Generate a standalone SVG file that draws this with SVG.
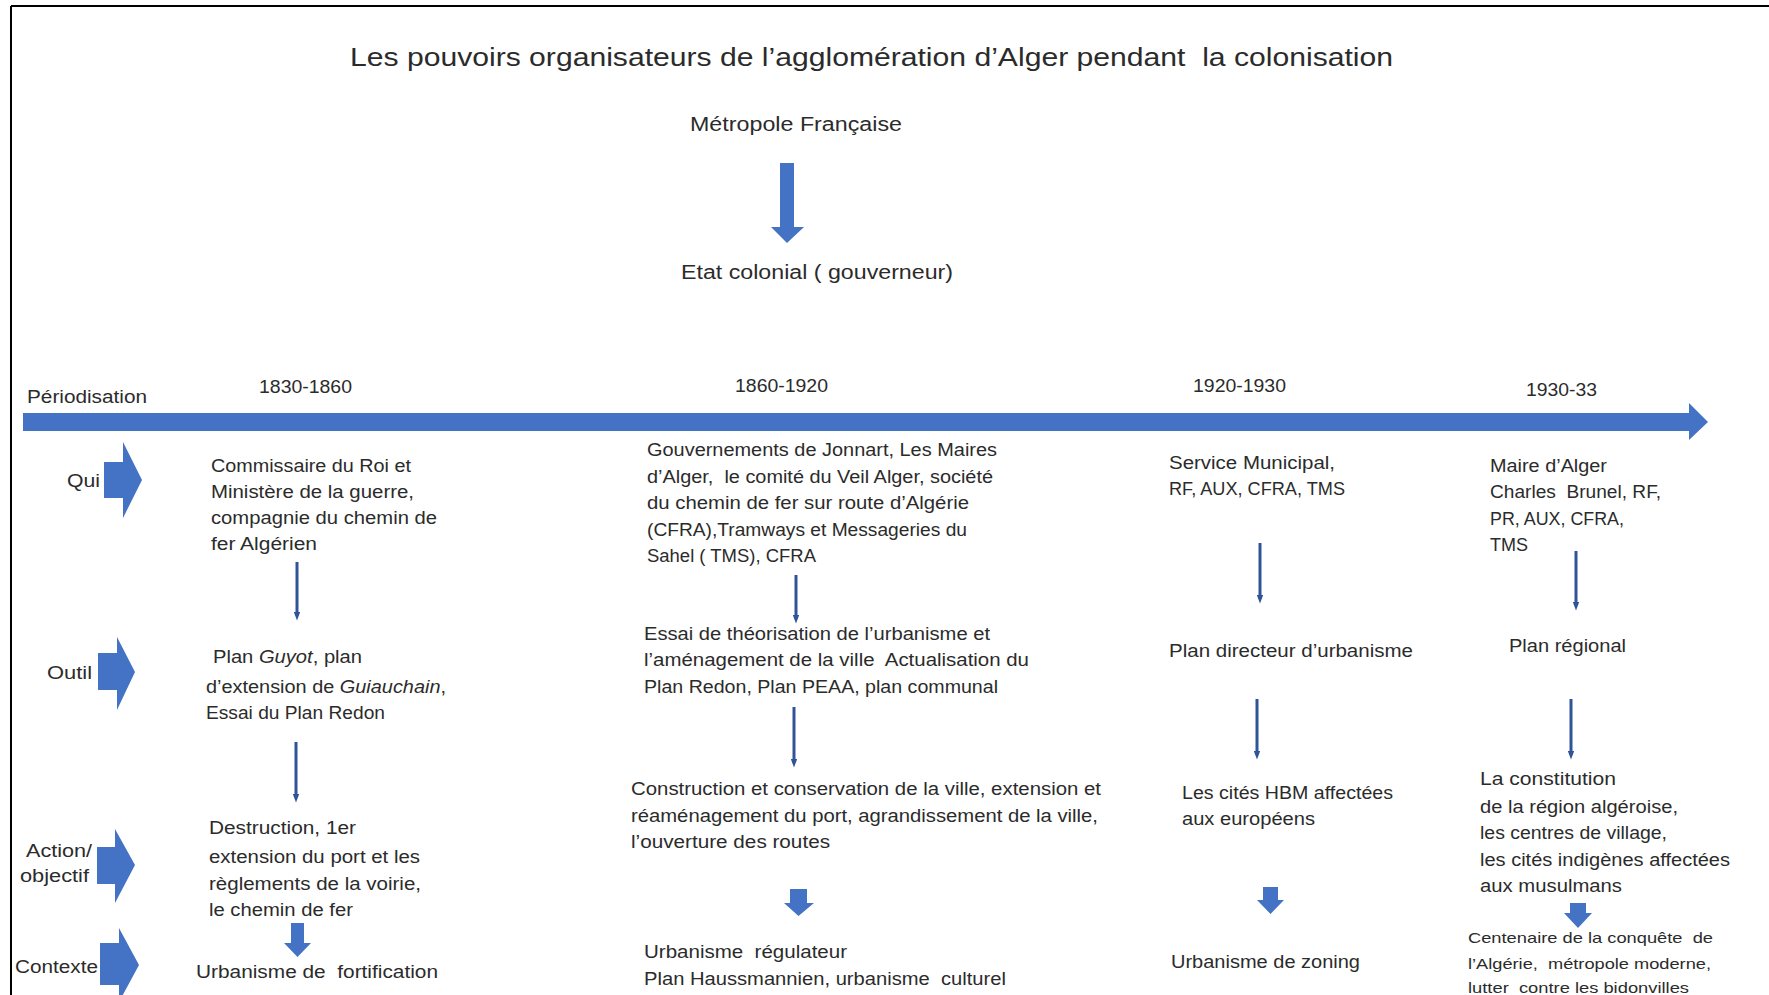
<svg xmlns="http://www.w3.org/2000/svg" width="1769" height="995" viewBox="0 0 1769 995">
<defs>
<style>
text{font-family:"Liberation Sans",Arial,sans-serif;fill:#2b2b2b;white-space:pre;}
.t{font-size:25px;}
.h{font-size:20px;}
.p{font-size:17.5px;}
.b{font-size:17.5px;}
.s{font-size:15px;}
.blk{fill:#4472C4;}
.thin{stroke:#2F5597;stroke-width:3;fill:none;marker-end:url(#th);}
</style>
<marker id="th" viewBox="0 0 8 6" refX="4" refY="3" markerWidth="3" markerHeight="2.2" orient="auto" markerUnits="strokeWidth"><path d="M0,0 L8,3 L0,6 Z" fill="#2F5597"/></marker>
</defs>
<rect x="0" y="0" width="1769" height="995" fill="#ffffff"/>
<g id="frame" stroke="#000" stroke-width="2" fill="none">
<line x1="11" y1="6" x2="1769" y2="6"/>
<line x1="11" y1="6" x2="11" y2="995"/>
</g>

<g id="title"><text class="t" x="350" y="66" textLength="1043" lengthAdjust="spacingAndGlyphs">Les pouvoirs organisateurs de l’agglomération d’Alger pendant  la colonisation</text></g>
<g id="metropole"><text class="h" x="690" y="131" textLength="212" lengthAdjust="spacingAndGlyphs">Métropole Française</text></g>
<g id="etat"><text class="h" x="681" y="279" textLength="272" lengthAdjust="spacingAndGlyphs">Etat colonial ( gouverneur)</text></g>

<g id="timeline">
<text class="p" x="27" y="403" textLength="120" lengthAdjust="spacingAndGlyphs">Périodisation</text>
<text class="p" x="259" y="393" textLength="93" lengthAdjust="spacingAndGlyphs">1830-1860</text>
<text class="p" x="735" y="392" textLength="93" lengthAdjust="spacingAndGlyphs">1860-1920</text>
<text class="p" x="1193" y="392" textLength="93" lengthAdjust="spacingAndGlyphs">1920-1930</text>
<text class="p" x="1526" y="396" textLength="71" lengthAdjust="spacingAndGlyphs">1930-33</text>
</g>

<g id="row-labels">
<text class="p" x="67" y="487" textLength="33" lengthAdjust="spacingAndGlyphs">Qui</text>
<text class="p" x="47" y="679" textLength="45" lengthAdjust="spacingAndGlyphs">Outil</text>
<text class="p" x="26" y="857" textLength="66" lengthAdjust="spacingAndGlyphs">Action/</text>
<text class="p" x="20" y="882" textLength="69" lengthAdjust="spacingAndGlyphs">objectif</text>
<text class="p" x="15" y="973" textLength="83" lengthAdjust="spacingAndGlyphs">Contexte</text>
</g>

<g id="col1-qui">
<text class="b" x="211" y="472" textLength="200" lengthAdjust="spacingAndGlyphs">Commissaire du Roi et</text>
<text class="b" x="211" y="498" textLength="203" lengthAdjust="spacingAndGlyphs">Ministère de la guerre,</text>
<text class="b" x="211" y="524" textLength="226" lengthAdjust="spacingAndGlyphs">compagnie du chemin de</text>
<text class="b" x="211" y="550" textLength="106" lengthAdjust="spacingAndGlyphs">fer Algérien</text>
</g>
<g id="col1-outil">
<text class="b" x="213" y="663" textLength="149" lengthAdjust="spacingAndGlyphs">Plan <tspan font-style="italic">Guyot</tspan>, plan</text>
<text class="b" x="206" y="693" textLength="240" lengthAdjust="spacingAndGlyphs">d’extension de <tspan font-style="italic">Guiauchain</tspan>,</text>
<text class="b" x="206" y="719" textLength="179" lengthAdjust="spacingAndGlyphs">Essai du Plan Redon</text>
</g>
<g id="col1-action">
<text class="b" x="209" y="834" textLength="147" lengthAdjust="spacingAndGlyphs">Destruction, 1er</text>
<text class="b" x="209" y="863" textLength="211" lengthAdjust="spacingAndGlyphs">extension du port et les</text>
<text class="b" x="209" y="890" textLength="212" lengthAdjust="spacingAndGlyphs">règlements de la voirie,</text>
<text class="b" x="209" y="916" textLength="144" lengthAdjust="spacingAndGlyphs">le chemin de fer</text>
</g>
<g id="col1-contexte">
<text class="b" x="196" y="978" textLength="242" lengthAdjust="spacingAndGlyphs">Urbanisme de  fortification</text>
</g>

<g id="col2-qui">
<text class="b" x="647" y="456" textLength="350" lengthAdjust="spacingAndGlyphs">Gouvernements de Jonnart, Les Maires</text>
<text class="b" x="647" y="483" textLength="346" lengthAdjust="spacingAndGlyphs">d’Alger,  le comité du Veil Alger, société</text>
<text class="b" x="647" y="509" textLength="322" lengthAdjust="spacingAndGlyphs">du chemin de fer sur route d’Algérie</text>
<text class="b" x="647" y="536" textLength="320" lengthAdjust="spacingAndGlyphs">(CFRA),Tramways et Messageries du</text>
<text class="b" x="647" y="562" textLength="169" lengthAdjust="spacingAndGlyphs">Sahel ( TMS), CFRA</text>
</g>
<g id="col2-outil">
<text class="b" x="644" y="640" textLength="346" lengthAdjust="spacingAndGlyphs">Essai de théorisation de l’urbanisme et</text>
<text class="b" x="644" y="666" textLength="385" lengthAdjust="spacingAndGlyphs">l’aménagement de la ville  Actualisation du</text>
<text class="b" x="644" y="693" textLength="354" lengthAdjust="spacingAndGlyphs">Plan Redon, Plan PEAA, plan communal</text>
</g>
<g id="col2-action">
<text class="b" x="631" y="795" textLength="470" lengthAdjust="spacingAndGlyphs">Construction et conservation de la ville, extension et</text>
<text class="b" x="631" y="822" textLength="467" lengthAdjust="spacingAndGlyphs">réaménagement du port, agrandissement de la ville,</text>
<text class="b" x="631" y="848" textLength="199" lengthAdjust="spacingAndGlyphs">l’ouverture des routes</text>
</g>
<g id="col2-contexte">
<text class="b" x="644" y="958" textLength="203" lengthAdjust="spacingAndGlyphs">Urbanisme  régulateur</text>
<text class="b" x="644" y="985" textLength="362" lengthAdjust="spacingAndGlyphs">Plan Haussmannien, urbanisme  culturel</text>
</g>

<g id="col3-qui">
<text class="b" x="1169" y="469" textLength="166" lengthAdjust="spacingAndGlyphs">Service Municipal,</text>
<text class="b" x="1169" y="495" textLength="176" lengthAdjust="spacingAndGlyphs">RF, AUX, CFRA, TMS</text>
</g>
<g id="col3-outil">
<text class="b" x="1169" y="657" textLength="244" lengthAdjust="spacingAndGlyphs">Plan directeur d’urbanisme</text>
</g>
<g id="col3-action">
<text class="b" x="1182" y="799" textLength="211" lengthAdjust="spacingAndGlyphs">Les cités HBM affectées</text>
<text class="b" x="1182" y="825" textLength="133" lengthAdjust="spacingAndGlyphs">aux européens</text>
</g>
<g id="col3-contexte">
<text class="b" x="1171" y="968" textLength="189" lengthAdjust="spacingAndGlyphs">Urbanisme de zoning</text>
</g>

<g id="col4-qui">
<text class="b" x="1490" y="472" textLength="117" lengthAdjust="spacingAndGlyphs">Maire d’Alger</text>
<text class="b" x="1490" y="498" textLength="171" lengthAdjust="spacingAndGlyphs">Charles  Brunel, RF,</text>
<text class="b" x="1490" y="525" textLength="134" lengthAdjust="spacingAndGlyphs">PR, AUX, CFRA,</text>
<text class="b" x="1490" y="551" textLength="38" lengthAdjust="spacingAndGlyphs">TMS</text>
</g>
<g id="col4-outil">
<text class="b" x="1509" y="652" textLength="117" lengthAdjust="spacingAndGlyphs">Plan régional</text>
</g>
<g id="col4-action">
<text class="b" x="1480" y="785" textLength="136" lengthAdjust="spacingAndGlyphs">La constitution</text>
<text class="b" x="1480" y="813" textLength="198" lengthAdjust="spacingAndGlyphs">de la région algéroise,</text>
<text class="b" x="1480" y="839" textLength="187" lengthAdjust="spacingAndGlyphs">les centres de village,</text>
<text class="b" x="1480" y="866" textLength="250" lengthAdjust="spacingAndGlyphs">les cités indigènes affectées</text>
<text class="b" x="1480" y="892" textLength="142" lengthAdjust="spacingAndGlyphs">aux musulmans</text>
</g>
<g id="col4-contexte">
<text class="s" x="1468" y="943" textLength="245" lengthAdjust="spacingAndGlyphs">Centenaire de la conquête  de</text>
<text class="s" x="1468" y="969" textLength="243" lengthAdjust="spacingAndGlyphs">l’Algérie,  métropole moderne,</text>
<text class="s" x="1468" y="993" textLength="221" lengthAdjust="spacingAndGlyphs">lutter  contre les bidonvilles</text>
</g>

<g id="connectors">
<polygon class="blk" points="780,163 794,163 794,227 804,227 787,243 771,227 780,227"/>
<polygon class="blk" points="23,413 1689,413 1689,403 1708,422 1689,440 1689,431 23,431"/>
<polygon class="blk" points="104,462 123,462 123,442 142,480 123,518 123,498 104,498"/>
<polygon class="blk" points="98,653 117,653 117,637 135,672 117,710 117,690 98,690"/>
<polygon class="blk" points="97,847 115,847 115,829 135,865 115,903 115,884 97,884"/>
<polygon class="blk" points="100,943 119,943 119,928 139,965 119,1002 119,985 100,985"/>
<polygon class="blk" points="291,923 304,923 304,943 311,943 297.5,957 284,943 291,943"/>
<polygon class="blk" points="790,889 807,889 807,903 814,903 798.5,916 784,903 790,903"/>
<polygon class="blk" points="1263,887 1278,887 1278,900 1284,900 1270.5,914 1257,900 1263,900"/>
<polygon class="blk" points="1570,903 1586,903 1586,913 1592,913 1578,928 1564,913 1570,913"/>
<line class="thin" x1="297" y1="562" x2="297" y2="616"/>
<line class="thin" x1="296" y1="742" x2="296" y2="798"/>
<line class="thin" x1="796" y1="575" x2="796" y2="619"/>
<line class="thin" x1="794" y1="707" x2="794" y2="763"/>
<line class="thin" x1="1260" y1="543" x2="1260" y2="599"/>
<line class="thin" x1="1257" y1="699" x2="1257" y2="755"/>
<line class="thin" x1="1576" y1="551" x2="1576" y2="606"/>
<line class="thin" x1="1571" y1="699" x2="1571" y2="755"/>
</g>
</svg>
